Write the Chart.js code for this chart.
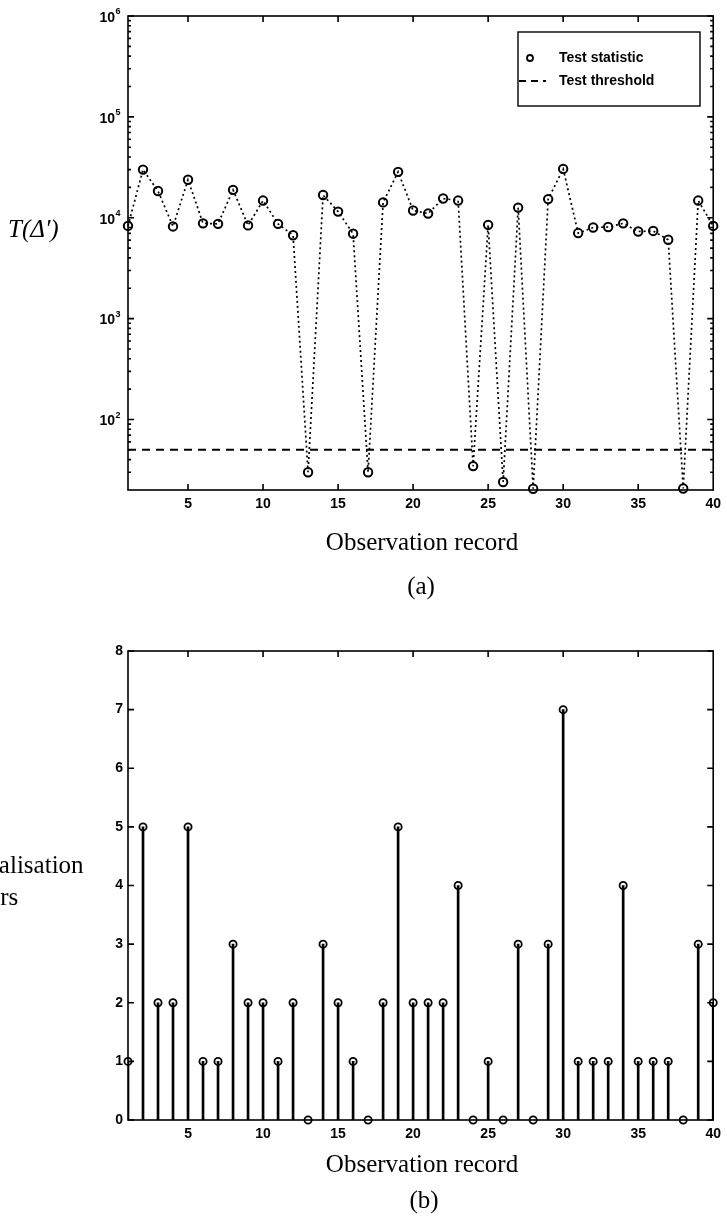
<!DOCTYPE html>
<html lang="en">
<head>
<meta charset="UTF-8">
<title>Test statistic and localisation errors</title>
<script src="https://cdn.jsdelivr.net/npm/chart.js"></script>
<style>
    html, body { margin: 0; padding: 0; background: #fff; }
    canvas { display: block; }
</style>
</head>
<body>
<canvas id="chartA" width="727" height="615"></canvas>
<canvas id="chartB" width="727" height="615"></canvas>
<script>
// data
const records = [1, 2, 3, 4, 5, 6, 7, 8, 9, 10, 11, 12, 13, 14, 15, 16, 17, 18, 19, 20,
    21, 22, 23, 24, 25, 26, 27, 28, 29, 30, 31, 32, 33, 34, 35, 36, 37, 38, 39, 40];
const testStatistic = [8300, 30000, 18400, 8200, 23800, 8800, 8700, 18900, 8400, 14800,
    8700, 6700, 30, 16800, 11500, 6950, 30, 14200, 28500, 11800,
    11000, 15500, 14800, 34.5, 8500, 24, 12600, 20.6, 15300, 30500,
    7050, 8000, 8100, 8800, 7300, 7400, 6050, 20.7, 14800, 8300];
const testThreshold = 50;
const localisationErrors = [1, 5, 2, 2, 5, 1, 1, 3, 2, 2, 1, 2, 0, 3, 2, 1, 0, 2, 5, 2,
    2, 2, 4, 0, 1, 0, 3, 0, 3, 7, 1, 1, 1, 4, 1, 1, 1, 0, 3, 2];
const xTicks = [5, 10, 15, 20, 25, 30, 35, 40];
const logTicks = [100, 1000, 10000, 100000, 1000000];
const errorTicks = [0, 1, 2, 3, 4, 5, 6, 7, 8];

const tickFont = { family: '"Liberation Sans", Arial, sans-serif', size: 14, weight: 'bold' };
const serif = '"Liberation Serif", "Times New Roman", serif';

// minor ticks of the log axis: 2..9 in every decade
const minorLog = [];
for (let e = 1; e <= 5; e++) {
    for (let d = 2; d <= 9; d++) {
        const v = d * Math.pow(10, e);
        if (v > 20 && v < 1e6) minorLog.push(v);
    }
}

// box with inward ticks on all four sides
const frame = {
    id: 'frame',
    beforeDatasetsDraw(chart, args, opts) {
        const ctx = chart.ctx;
        const a = chart.chartArea;
        const x = chart.scales.x, y = chart.scales.y;
        ctx.save();
        ctx.strokeStyle = '#000';
        ctx.lineWidth = 1.6;
        ctx.strokeRect(a.left, a.top, a.right - a.left, a.bottom - a.top);
        ctx.beginPath();
        x.ticks.forEach(t => {
            const px = x.getPixelForValue(t.value);
            if (px >= a.right - 1) return;
            ctx.moveTo(px, a.bottom); ctx.lineTo(px, a.bottom - 6);
            ctx.moveTo(px, a.top); ctx.lineTo(px, a.top + 6);
        });
        y.ticks.forEach(t => {
            const py = y.getPixelForValue(t.value);
            ctx.moveTo(a.left, py); ctx.lineTo(a.left + 6, py);
            ctx.moveTo(a.right, py); ctx.lineTo(a.right - 6, py);
        });
        (opts.minor || []).forEach(v => {
            const py = y.getPixelForValue(v);
            ctx.moveTo(a.left, py); ctx.lineTo(a.left + 3, py);
            ctx.moveTo(a.right, py); ctx.lineTo(a.right - 3, py);
        });
        ctx.stroke();
        ctx.restore();
    }
};

// free text: axis titles and panel letters
const captions = {
    id: 'captions',
    afterDraw(chart, args, opts) {
        const ctx = chart.ctx;
        ctx.save();
        ctx.fillStyle = '#000';
        ctx.textBaseline = 'alphabetic';
        (opts.items || []).forEach(it => {
            ctx.font = it.font;
            ctx.textAlign = it.align || 'center';
            ctx.fillText(it.text, it.x, it.y);
        });
        ctx.restore();
    }
};

// 10^n labels for the log axis
const powerLabels = {
    id: 'powerLabels',
    afterDraw(chart) {
        const ctx = chart.ctx;
        const y = chart.scales.y;
        ctx.save();
        ctx.fillStyle = '#000';
        y.ticks.forEach(t => {
            const py = y.getPixelForValue(t.value);
            const e = Math.round(Math.log10(t.value));
            ctx.font = 'bold 14px "Liberation Sans", Arial, sans-serif';
            ctx.textAlign = 'right';
            ctx.textBaseline = 'middle';
            ctx.fillText('10', 115, py + 2);
            ctx.font = 'bold 9px "Liberation Sans", Arial, sans-serif';
            ctx.textAlign = 'left';
            ctx.fillText(String(e), 115.5, py - 4);
        });
        ctx.restore();
    }
};

// legend box inside the top right corner
const boxLegend = {
    id: 'boxLegend',
    afterDraw(chart) {
        const ctx = chart.ctx;
        const ds = chart.data.datasets;
        ctx.save();
        ctx.fillStyle = '#fff';
        ctx.fillRect(518, 32, 182, 74);
        ctx.strokeStyle = '#000';
        ctx.lineWidth = 1.4;
        ctx.strokeRect(518, 32, 182, 74);
        ctx.beginPath();
        ctx.arc(530, 58, 3, 0, Math.PI * 2);
        ctx.lineWidth = 1.8;
        ctx.stroke();
        ctx.beginPath();
        ctx.setLineDash([7, 5]);
        ctx.lineWidth = 2;
        ctx.moveTo(519, 81); ctx.lineTo(546, 81);
        ctx.stroke();
        ctx.setLineDash([]);
        ctx.fillStyle = '#000';
        ctx.font = 'bold 14px "Liberation Sans", Arial, sans-serif';
        ctx.textAlign = 'left';
        ctx.textBaseline = 'middle';
        ctx.fillText(ds[0].label, 559, 58);
        ctx.fillText(ds[1].label, 559, 81);
        ctx.restore();
    }
};

function xScale(height) {
    return {
        type: 'linear',
        min: 1,
        max: 40,
        offset: false,
        afterBuildTicks: s => { s.ticks = xTicks.map(v => ({ value: v })); },
        afterFit: s => { s.height = height; },
        grid: { display: false, drawTicks: false },
        border: { display: false },
        ticks: { font: tickFont, color: '#000', padding: 6, maxRotation: 0, autoSkip: false }
    };
}

// (a) test statistic on a log axis
new Chart(document.getElementById('chartA'), {
    type: 'line',
    data: {
        datasets: [{
            label: 'Test statistic',
            data: records.map((r, i) => ({ x: r, y: testStatistic[i] })),
            borderColor: '#000',
            borderWidth: 1.7,
            borderDash: [2, 3],
            pointRadius: 4.2,
            pointBorderWidth: 2,
            pointBorderColor: '#000',
            pointBackgroundColor: 'rgba(0,0,0,0)',
            tension: 0,
            clip: false
        }, {
            label: 'Test threshold',
            data: [{ x: records[0], y: testThreshold }, { x: records[records.length - 1], y: testThreshold }],
            borderColor: '#000',
            borderWidth: 2,
            borderDash: [8, 6],
            pointRadius: 0
        }]
    },
    options: {
        responsive: false,
        animation: false,
        events: [],
        layout: { padding: { left: 0, right: 10, top: 16, bottom: 0 } },
        scales: {
            x: xScale(125),
            y: {
                type: 'logarithmic',
                min: 20,
                max: 1000000,
                afterBuildTicks: s => { s.ticks = logTicks.map(v => ({ value: v })); },
                afterFit: s => { s.width = 128; },
                grid: { display: false, drawTicks: false },
                border: { display: false },
                ticks: { display: false }
            }
        },
        plugins: {
            legend: { display: false },
            tooltip: { enabled: false },
            frame: { minor: minorLog },
            captions: {
                items: [
                    { text: 'T(\u0394\u2032)', x: 8, y: 237, align: 'left', font: 'italic 25px ' + serif },
                    { text: 'Observation record', x: 422, y: 550, font: '25px ' + serif },
                    { text: '(a)', x: 421, y: 594, font: '25px ' + serif }
                ]
            }
        }
    },
    plugins: [frame, powerLabels, boxLegend, captions]
});

// (b) number of localisation errors as stems
new Chart(document.getElementById('chartB'), {
    type: 'bar',
    data: {
        datasets: [{
            type: 'line',
            label: 'Localisation errors',
            data: records.map((r, i) => ({ x: r, y: localisationErrors[i] })),
            showLine: false,
            pointRadius: 3.6,
            pointBorderWidth: 1.8,
            pointBorderColor: '#000',
            pointBackgroundColor: 'rgba(0,0,0,0)',
            clip: false,
            order: 0
        }, {
            label: 'Stems',
            data: records.map((r, i) => ({ x: r, y: localisationErrors[i] })),
            backgroundColor: '#000',
            borderWidth: 0,
            barThickness: 2,
            order: 1
        }]
    },
    options: {
        responsive: false,
        animation: false,
        events: [],
        layout: { padding: { left: 0, right: 10, top: 36, bottom: 0 } },
        scales: {
            x: xScale(110),
            y: {
                type: 'linear',
                min: 0,
                max: 8,
                afterBuildTicks: s => { s.ticks = errorTicks.map(v => ({ value: v })); },
                afterFit: s => { s.width = 128; },
                grid: { display: false, drawTicks: false },
                border: { display: false },
                ticks: { font: tickFont, color: '#000', padding: 5 }
            }
        },
        plugins: {
            legend: { display: false },
            tooltip: { enabled: false },
            captions: {
                items: [
                    { text: 'Localisation', x: -40, y: 258, align: 'left', font: '25px ' + serif },
                    { text: 'errors', x: -40, y: 290, align: 'left', font: '25px ' + serif },
                    { text: 'Observation record', x: 422, y: 557, font: '25px ' + serif },
                    { text: '(b)', x: 424, y: 593, font: '25px ' + serif }
                ]
            }
        }
    },
    plugins: [frame, captions]
});
</script>
</body>
</html>
